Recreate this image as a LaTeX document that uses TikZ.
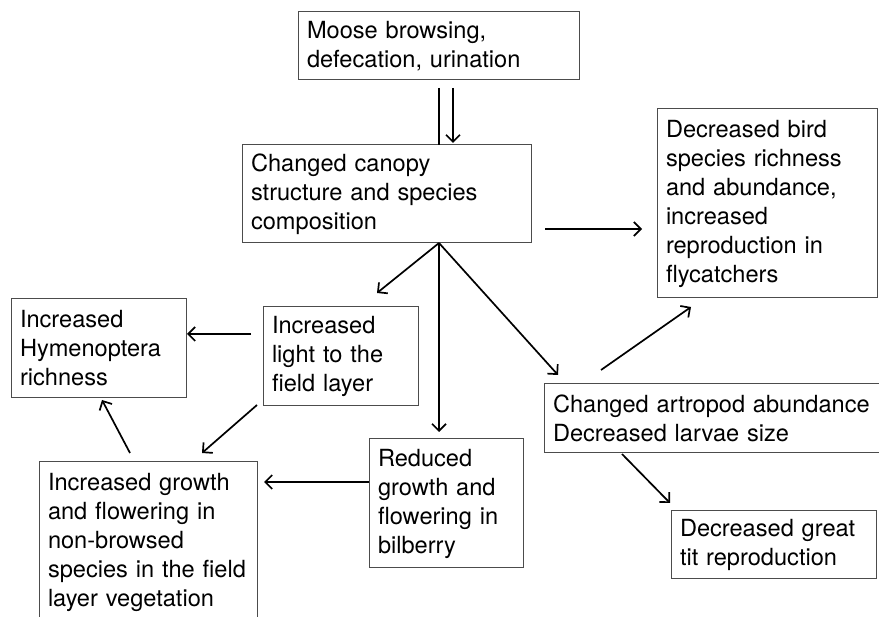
\documentclass[tikz,border=0pt]{standalone}
\usepackage{fontspec}
\setmainfont{TeX Gyre Heros}
\usetikzlibrary{arrows.meta,calc}
\tikzset{
  box/.style={draw=black!70, line width=1pt, anchor=north west, inner xsep=9pt, inner ysep=0pt,
    outer sep=0pt, align=left, font=\fontsize{23.6}{29}\selectfont},
  arr/.style={line width=1.7pt, -{Straight Barb[length=7pt,width=14pt,line width=1.7pt]}},
  ln/.style={line width=1.7pt}
}
\begin{document}
\begin{tikzpicture}[x=1pt,y=-1pt]
\useasboundingbox (0,0) rectangle (879,617);
\clip (0,0) rectangle (879,617);
\fill[white] (0,0) rectangle (879,617);
\node[box, text width=263pt, minimum height=68pt] (moose) at (298,12) {Moose browsing,\\defecation, urination};
\node[box, text width=271pt, minimum height=98pt] (canopy) at (242,145) {Changed canopy\\structure and species\\composition};
\node[box, text width=202pt, minimum height=189pt] (bird) at (657,109) {Decreased bird\\species richness\\and abundance,\\increased\\reproduction in\\flycatchers};
\node[box, text width=157pt, minimum height=99pt] (hym) at (11,299) {Increased\\Hymenoptera\\richness};
\node[box, text width=137pt, minimum height=99pt] (light) at (263,307) {Increased\\light to the\\field layer};
\node[box, text width=136pt, minimum height=129pt] (bilb) at (369,439) {Reduced\\growth and\\flowering in\\bilberry};
\node[box, text width=342pt, minimum height=69pt] (artro) at (544,384) {Changed artropod abundance\\Decreased larvae size};
\node[box, text width=187pt, minimum height=68pt] (tit) at (671,511) {Decreased great\\tit reproduction};
\node[box, text width=200pt, minimum height=160pt] (growth) at (39,462) {Increased growth\\and flowering in\\non-browsed\\species in the field\\layer vegetation};
% connectors
\coordinate (apex) at ($(canopy.south west)+(197,0)$);
\draw[ln] ($(moose.south west)+(141,8)$) -- ($(canopy.north west)+(197,0)$);
\draw[arr] ($(moose.south west)+(155,8)$) -- ($(canopy.north west)+(211,-2)$);
\draw[arr] ($(canopy.east)+(14,35)$) -- ($(bird.west)+(-15,25.5)$);
\draw[arr] (apex) -- ($(light.north east)+(-41,-14)$);
\draw[arr] (apex) -- ($(bilb.north west)+(70,-7)$);
\draw[arr] (apex) -- ($(artro.north west)+(14,-9)$);
\draw[arr] ($(artro.north west)+(57,-14)$) -- ($(bird.south west)+(34,9)$);
\draw[arr] ($(artro.south west)+(78,1)$) -- ($(tit.north west)+(-1,-8)$);
\draw[arr] ($(light.west)+(-12,-22.5)$) -- ($(hym.east)+(1,-14.5)$);
\draw[arr] ($(light.south west)+(-6,-1)$) -- ($(growth.north east)+(-55,-9)$);
\draw[arr] ($(growth.north west)+(91,-9)$) -- ($(hym.south west)+(91,2)$);
\draw[arr] ($(bilb.north west)+(0,43)$) -- ($(growth.north east)+(7,20)$);
\end{tikzpicture}
\end{document}
